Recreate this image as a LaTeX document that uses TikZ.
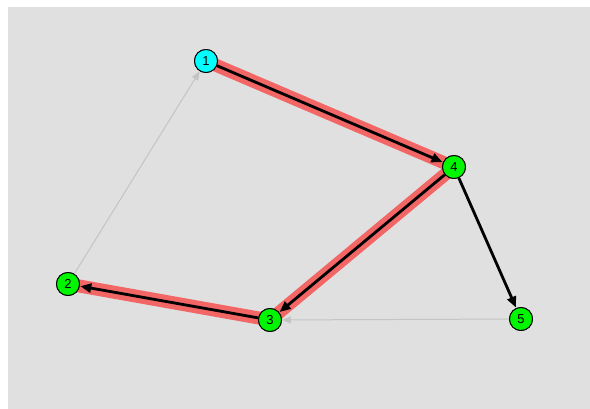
\documentclass[tikz,border=0pt]{standalone}
\usepackage{fontspec}
\setmainfont{Liberation Sans}
\usetikzlibrary{arrows.meta}
\definecolor{bg}{RGB}{224,224,224}
\definecolor{hl}{RGB}{242,102,102}
\definecolor{faint}{RGB}{196,196,196}
\definecolor{cyanfill}{RGB}{0,255,255}
\definecolor{greenfill}{RGB}{0,245,0}
\tikzset{
  vtx/.style={circle, draw=black, line width=0.9pt, minimum size=23pt, inner sep=0pt, font=\fontsize{13}{13}\selectfont},
  highlight/.style={hl, line width=13pt, line cap=butt},
  mainedge/.style={black, line width=2.8pt, -{Triangle[length=11pt,width=9pt]}, shorten >=0.5pt},
  faintedge/.style={faint, line width=1pt, -{Triangle[length=9pt,width=7pt]}},
}
\begin{document}
\begin{tikzpicture}[x=1pt,y=-1pt]
\useasboundingbox (0,0) rectangle (590,409);
\fill[bg] (8,7) rectangle (590,409);
\coordinate (c1) at (206,61);
\coordinate (c2) at (68,284);
\coordinate (c3) at (270,320);
\coordinate (c4) at (454,167);
\coordinate (c5) at (521,319);
% highlights
\draw[highlight] (c1) -- (c4);
\draw[highlight] (c4) -- (c3);
\draw[highlight] (c3) -- (c2);
\node[vtx, fill=cyanfill] (n1) at (c1) {1};
\node[vtx, fill=greenfill] (n2) at (c2) {2};
\node[vtx, fill=greenfill] (n3) at (c3) {3};
\node[vtx, fill=greenfill] (n4) at (c4) {4};
\node[vtx, fill=greenfill] (n5) at (c5) {5};
\draw[faintedge] (n2) -- (n1);
\draw[faintedge] (n5) -- (n3);
\draw[mainedge] (n1) -- (n4);
\draw[mainedge] (n4) -- (n3);
\draw[mainedge] (n3) -- (n2);
\draw[mainedge] (n4) -- (n5);
% redraw nodes on top
\node[vtx, fill=cyanfill] at (c1) {1};
\node[vtx, fill=greenfill] at (c2) {2};
\node[vtx, fill=greenfill] at (c3) {3};
\node[vtx, fill=greenfill] at (c4) {4};
\node[vtx, fill=greenfill] at (c5) {5};
\end{tikzpicture}
\end{document}
